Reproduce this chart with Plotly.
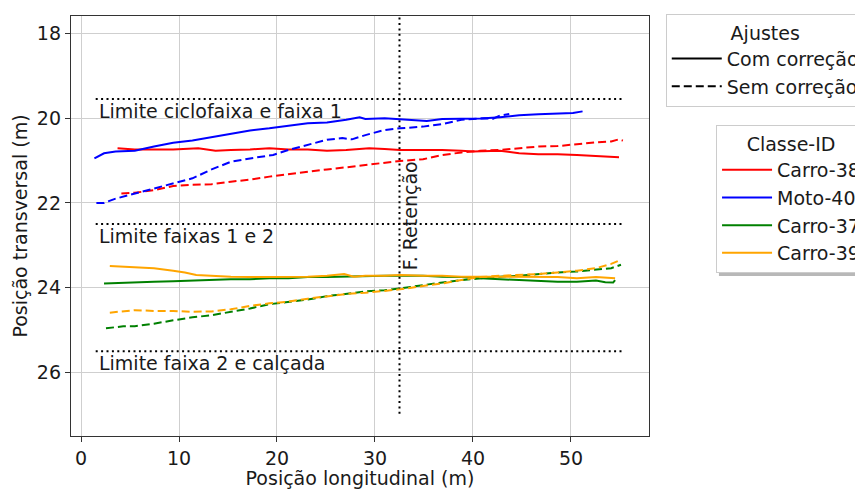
import plotly.graph_objects as go

# ---------------- data ----------------
# Carro-38 (red)
c38_com_x = [3.73, 5.49, 7.45, 9.41, 11.96, 13.73, 15.29, 17.25, 19.22, 21.18, 23.14, 25.10, 27.06, 29.41, 30.98, 32.55, 34.9, 36.86, 38.82, 40.0, 42.75, 44.71, 46.67, 48.63, 50.6, 52.55, 54.9]
c38_com_y = [20.71, 20.74, 20.74, 20.74, 20.71, 20.77, 20.75, 20.74, 20.71, 20.74, 20.74, 20.77, 20.75, 20.71, 20.73, 20.75, 20.75, 20.75, 20.77, 20.79, 20.77, 20.83, 20.85, 20.85, 20.87, 20.89, 20.92]
c38_sem_x = [4.12, 5.49, 7.45, 9.41, 11.37, 13.33, 15.29, 17.25, 19.22, 21.18, 23.14, 25.10, 27.06, 29.02, 30.98, 32.55, 34.9, 36.86, 38.82, 40.78, 42.75, 44.71, 46.67, 48.63, 50.6, 52.55, 54.1, 54.9, 55.3]
c38_sem_y = [21.78, 21.76, 21.70, 21.60, 21.57, 21.56, 21.50, 21.45, 21.38, 21.32, 21.26, 21.21, 21.16, 21.11, 21.05, 21.01, 20.97, 20.87, 20.81, 20.77, 20.75, 20.71, 20.67, 20.66, 20.61, 20.57, 20.55, 20.50, 20.53]

# Moto-40 (blue)
m40_com_x = [1.37, 2.35, 3.53, 5.49, 7.45, 9.41, 11.37, 13.33, 15.29, 17.25, 19.22, 21.18, 23.14, 25.10, 27.06, 28.43, 29.02, 30.98, 32.55, 35.29, 36.86, 38.82, 40.78, 42.75, 44.71, 46.67, 48.63, 50.2, 51.18]
m40_com_y = [20.95, 20.83, 20.79, 20.77, 20.67, 20.58, 20.53, 20.45, 20.37, 20.29, 20.24, 20.18, 20.12, 20.10, 20.04, 19.98, 20.02, 20.00, 20.02, 20.07, 20.02, 20.02, 20.01, 19.98, 19.93, 19.91, 19.89, 19.88, 19.84]
m40_sem_x = [1.57, 2.35, 3.53, 5.49, 7.45, 9.41, 11.37, 13.33, 15.29, 17.25, 19.6, 21.18, 23.14, 25.10, 26.67, 27.65, 29.02, 30.98, 32.55, 34.9, 36.86, 38.82, 40.0, 41.2, 42.0, 42.75, 43.7]
m40_sem_y = [22.00, 22.00, 21.90, 21.78, 21.66, 21.54, 21.42, 21.21, 21.03, 20.95, 20.87, 20.75, 20.63, 20.51, 20.47, 20.50, 20.40, 20.28, 20.24, 20.20, 20.14, 20.04, 20.02, 20.00, 20.02, 19.94, 19.90]

# Carro-37 (green)
c37_com_x = [2.35, 4.31, 5.49, 7.45, 9.41, 11.37, 13.33, 15.29, 17.25, 19.22, 21.18, 23.14, 25.10, 27.06, 29.02, 30.98, 32.55, 34.9, 36.86, 38.82, 40.78, 42.75, 44.71, 46.67, 48.63, 50.6, 52.55, 53.5, 54.3, 54.5]
c37_com_y = [23.90, 23.88, 23.87, 23.86, 23.85, 23.83, 23.82, 23.80, 23.80, 23.78, 23.78, 23.75, 23.75, 23.74, 23.72, 23.72, 23.72, 23.72, 23.74, 23.75, 23.78, 23.80, 23.83, 23.85, 23.86, 23.86, 23.83, 23.87, 23.88, 23.82]
c37_sem_x = [2.55, 4.31, 5.49, 7.45, 9.41, 11.37, 13.33, 15.29, 17.25, 19.22, 21.18, 23.14, 25.10, 27.06, 29.02, 30.98, 32.55, 34.9, 36.86, 38.82, 40.78, 42.75, 44.71, 46.67, 48.63, 50.6, 52.55, 54.1, 55.1]
c37_sem_y = [24.96, 24.91, 24.91, 24.85, 24.77, 24.70, 24.65, 24.57, 24.49, 24.39, 24.33, 24.28, 24.20, 24.15, 24.09, 24.06, 24.02, 23.94, 23.88, 23.82, 23.78, 23.74, 23.72, 23.68, 23.64, 23.62, 23.58, 23.54, 23.46]

# Carro-39 (orange)
c39_com_x = [2.94, 4.31, 5.49, 7.45, 9.41, 10.6, 11.76, 13.33, 15.29, 17.25, 19.22, 21.18, 23.14, 25.10, 26.86, 27.84, 29.02, 30.98, 32.55, 34.9, 36.86, 38.82, 40.78, 42.75, 44.71, 46.67, 48.63, 50.6, 52.55, 54.5]
c39_com_y = [23.49, 23.50, 23.52, 23.54, 23.60, 23.64, 23.70, 23.72, 23.74, 23.75, 23.75, 23.74, 23.74, 23.72, 23.68, 23.74, 23.72, 23.72, 23.70, 23.72, 23.72, 23.74, 23.74, 23.75, 23.75, 23.75, 23.75, 23.78, 23.75, 23.78]
c39_sem_x = [2.94, 4.31, 5.49, 7.45, 9.41, 11.37, 13.33, 15.29, 17.25, 19.22, 21.18, 23.14, 25.10, 27.06, 29.02, 30.98, 32.55, 34.9, 36.86, 38.82, 40.78, 42.75, 44.71, 46.67, 48.63, 50.6, 52.55, 54.1, 55.1]
c39_sem_y = [24.59, 24.55, 24.53, 24.55, 24.55, 24.57, 24.56, 24.51, 24.43, 24.37, 24.33, 24.26, 24.20, 24.15, 24.12, 24.07, 24.04, 23.96, 23.90, 23.82, 23.75, 23.72, 23.70, 23.68, 23.64, 23.60, 23.54, 23.44, 23.34]

# reference lines
limit_y = [19.55, 22.5, 25.5]
limit_labels = ["Limite ciclofaixa e faixa 1", "Limite faixas 1 e 2", "Limite faixa 2 e calçada"]
limit_x_span = [1.5, 55.3]
retencao_x = 32.5
retencao_y_span = [17.5, 27.0]
retencao_label = "F. Retenção"

series = [
    ("Carro-38", "red", c38_com_x, c38_com_y, c38_sem_x, c38_sem_y),
    ("Moto-40", "blue", m40_com_x, m40_com_y, m40_sem_x, m40_sem_y),
    ("Carro-37", "green", c37_com_x, c37_com_y, c37_sem_x, c37_sem_y),
    ("Carro-39", "orange", c39_com_x, c39_com_y, c39_sem_x, c39_sem_y),
]

FONT = "DejaVu Sans"
TXT = "#1a1a1a"
DASH = "8px,4px"
DOT = "2px,3.4px"

fig = go.Figure()

# dotted reference lines
for ly in limit_y:
    fig.add_trace(go.Scatter(x=limit_x_span, y=[ly, ly], mode="lines",
                             line=dict(color="black", width=2, dash=DOT),
                             showlegend=False, hoverinfo="skip"))
fig.add_trace(go.Scatter(x=[retencao_x, retencao_x], y=retencao_y_span, mode="lines",
                         line=dict(color="black", width=2, dash=DOT),
                         showlegend=False, hoverinfo="skip"))

for name, col, cx, cy, sx, sy in series:
    fig.add_trace(go.Scatter(x=cx, y=cy, mode="lines", name=name,
                             line=dict(color=col, width=2), legend="legend2"))
    fig.add_trace(go.Scatter(x=sx, y=sy, mode="lines", name=name + " sem",
                             line=dict(color=col, width=2, dash=DASH),
                             showlegend=False, legend="legend2"))

# legend 1 entries (style only)
fig.add_trace(go.Scatter(x=[None], y=[None], mode="lines", name="Com correção",
                         line=dict(color="black", width=2), legend="legend"))
fig.add_trace(go.Scatter(x=[None], y=[None], mode="lines", name="Sem correção",
                         line=dict(color="black", width=2, dash=DASH), legend="legend"))

# annotations
for ly, lab in zip(limit_y, limit_labels):
    fig.add_annotation(x=1.6, y=ly + 0.28, text=lab, showarrow=False,
                       xanchor="left", yanchor="middle",
                       font=dict(family=FONT, size=19, color=TXT))
fig.add_annotation(x=33.6, y=23.64, text=retencao_label, showarrow=False,
                   textangle=-90, xanchor="center", yanchor="bottom",
                   font=dict(family=FONT, size=19, color=TXT))

# legend shadows (paper coords, drawn under the legends)
for x0, x1, y0, y1 in [(1.0346, 1.6, 0.7905, 0.9976), (1.121, 1.6, 0.381, 0.7333)]:
    fig.add_shape(type="rect", xref="paper", yref="paper", x0=x0, x1=x1, y0=y0, y1=y1,
                  line=dict(width=0), fillcolor="#b8b8b8", layer="above")

axis_common = dict(showgrid=True, gridcolor="#cfcfcf", gridwidth=1.2,
                   showline=True, linecolor="#333333", linewidth=1.3, mirror=True,
                   ticks="outside", ticklen=5, tickwidth=1.2, tickcolor="#333333",
                   tickfont=dict(family=FONT, size=19, color=TXT), zeroline=False)

fig.update_layout(
    width=855, height=481,
    margin=dict(l=63, r=214, t=8, b=53, autoexpand=False),
    plot_bgcolor="white", paper_bgcolor="white",
    font=dict(family=FONT, size=19, color=TXT),
    xaxis=dict(range=[-1.02, 57.96], tickvals=[0, 10, 20, 30, 40, 50],
               title=dict(text="Posição longitudinal (m)", standoff=4,
                          font=dict(family=FONT, size=19, color=TXT)),
               **axis_common),
    yaxis=dict(range=[27.50, 17.59], tickvals=[18, 20, 22, 24, 26],
               title=dict(text="Posição transversal (m)", standoff=4,
                          font=dict(family=FONT, size=19, color=TXT)),
               **axis_common),
    legend=dict(x=1.029, y=1.005, xanchor="left", yanchor="top", itemwidth=50,
                title=dict(text="Ajustes", side="top center",
                           font=dict(family=FONT, size=19, color=TXT)),
                font=dict(family=FONT, size=19, color=TXT),
                bgcolor="white", bordercolor="#cccccc", borderwidth=1),
    legend2=dict(x=1.116, y=0.74, xanchor="left", yanchor="top", itemwidth=50,
                 title=dict(text="Classe-ID", side="top center",
                            font=dict(family=FONT, size=19, color=TXT)),
                 font=dict(family=FONT, size=19, color=TXT),
                 bgcolor="white", bordercolor="#cccccc", borderwidth=1),
)

fig.write_html("out.html")
